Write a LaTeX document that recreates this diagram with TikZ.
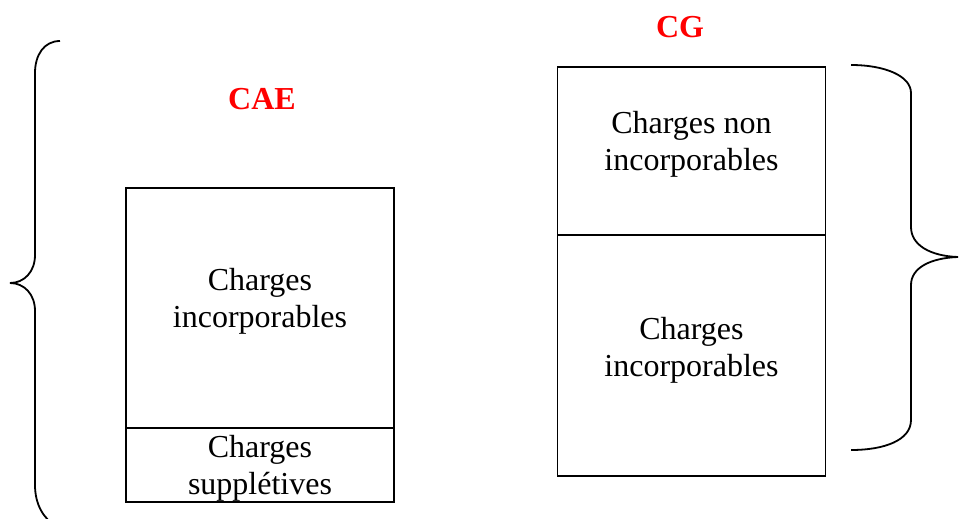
\documentclass[tikz,border=0pt]{standalone}
\usepackage{fontspec}
\setmainfont{Liberation Serif}
\begin{document}
\begin{tikzpicture}[x=1pt,y=-1pt]
    \tikzstyle{cell}=[rectangle, draw, line width=1.8pt, minimum width=268pt, inner sep=0pt]
    \tikzstyle{txt}=[align=center, inner sep=0pt, font=\fontsize{32}{37}\selectfont]
    \tikzstyle{heading}=[text=red, inner sep=0pt, font=\fontsize{32}{37}\selectfont\bfseries]
    \tikzstyle{brace}=[line width=1.8pt]
    \useasboundingbox (0,0) rectangle (959,519);
    \node[heading] (cae) at (262,99) {CAE};
    \node[heading] (cg) at (680,27) {CG};
    \node[cell, minimum height=240pt] (cai) at (260,308) {};
    \node[cell, minimum height=74pt] (cas) at (260,465) {};
    \node[cell, minimum height=168pt] (cgn) at (691.5,151) {};
    \node[cell, minimum height=241pt] (cgi) at (691.5,355.5) {};
    \node[txt] (tcai) at (260,301) {Charges\\incorporables};
    \node[txt] (tcas) at (260,468) {Charges\\supplétives};
    \node[txt] (tcgn) at (691.5,144) {Charges non\\incorporables};
    \node[txt] (tcgi) at (691.5,350) {Charges\\incorporables};
    % accolades
    \draw[brace] (60,41) .. controls (44,41) and (35,55) .. (35,73) -- (35,255)
        .. controls (35,272) and (24,283) .. (10,283)
        .. controls (24,283) and (35,294) .. (35,311) -- (35,485)
        .. controls (35,505) and (44,519) .. (56,526);
    \draw[brace] (851,65) .. controls (885,65) and (911,76) .. (911,93) -- (911,227)
        .. controls (911,245) and (930,256) .. (958,257)
        .. controls (930,258) and (911,268) .. (911,285) -- (911,420)
        .. controls (911,440) and (885,450) .. (851,450);
\end{tikzpicture}
\end{document}
